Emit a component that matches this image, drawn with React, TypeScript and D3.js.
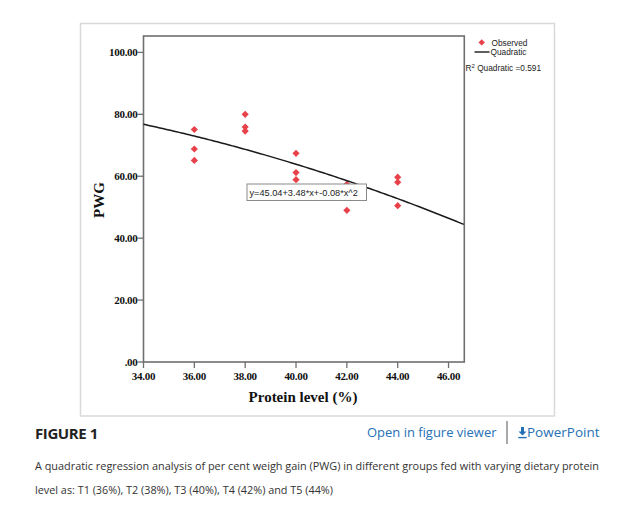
import React from "react";
import * as d3 from "d3";

// ---- data ----
const xObserved = [36, 36, 36, 38, 38, 38, 40, 40, 40, 42, 42, 44, 44, 44];
const yObserved = [75.1, 68.8, 65.1, 80.0, 75.9, 74.6, 67.4, 61.2, 58.9, 57.4, 49.0, 59.7, 58.1, 50.5];
// fitted quadratic (as drawn): y = c0 + c1*x + c2*x^2
const quadCoef = [64.04, 2.52, -0.0631];
const xTicks = [34, 36, 38, 40, 42, 44, 46];
const yTicks = [0, 20, 40, 60, 80, 100];
const xDomain = [34, 46.62];
const yDomain = [0, 105.3];
const equationLabel = "y=45.04+3.48*x+-0.08*x^2";
const legendLabels = ["Observed", "Quadratic"];
const rSquaredLabel = "Quadratic =0.591";
const captionLines = [
  "A quadratic regression analysis of per cent weigh gain (PWG) in different groups fed with varying dietary protein",
  "level as: T1 (36%), T2 (38%), T3 (40%), T4 (42%) and T5 (44%)",
];

const fmt = (v: number) => {
  const s = v.toFixed(2);
  return s.startsWith("0.") ? s.slice(1) : s;
};

export default function App() {
  const left = 143.5, right = 464.3, top = 36, bottom = 362;
  const x = d3.scaleLinear().domain(xDomain).range([left, right]);
  const y = d3.scaleLinear().domain(yDomain).range([bottom, top]);

  const curveXs = d3.range(xDomain[0], xDomain[1] + 0.001, 0.1);
  const line = d3
    .line<number>()
    .x((d) => x(d))
    .y((d) => y(quadCoef[0] + quadCoef[1] * d + quadCoef[2] * d * d));

  const diamond = (cx: number, cy: number, r: number) =>
    `M${cx},${cy - r}L${cx + r},${cy}L${cx},${cy + r}L${cx - r},${cy}Z`;

  const serif = "'Liberation Serif', 'Times New Roman', serif";
  const sans = "'Liberation Sans', Arial, sans-serif";
  const open = "'Open Sans', 'Noto Sans', sans-serif";
  const red = "#e8414a";
  const axisColor = "#6f6f6f";
  const link = "#2670b5";

  return (
    <svg
      width={640}
      height={511}
      style={{ position: "absolute", left: 0, top: 0, background: "#fff" }}
    >
      <rect x={0} y={0} width={640} height={511} fill="#fff" />
      {/* outer figure frame */}
      <rect x={80.5} y={23.5} width={474} height={392.5} fill="none" stroke="#d9d9d9" strokeWidth={1.5} />

      {/* plot box */}
      <rect x={left} y={top} width={right - left} height={bottom - top} fill="#fff" stroke={axisColor} strokeWidth={1.6} />

      {/* y ticks */}
      {yTicks.map((t) => (
        <g key={"y" + t}>
          <line x1={left - 6} x2={left} y1={y(t)} y2={y(t)} stroke={axisColor} strokeWidth={1.3} />
          <text x={left - 6} y={y(t) + 3.6} textAnchor="end" fontFamily={serif} fontWeight="bold" fontSize={11} fill="#111" letterSpacing={-0.3}>
            {fmt(t)}
          </text>
        </g>
      ))}
      {/* x ticks */}
      {xTicks.map((t) => (
        <g key={"x" + t}>
          <line x1={x(t)} x2={x(t)} y1={bottom} y2={bottom + 6} stroke={axisColor} strokeWidth={1.3} />
          <text x={x(t)} y={bottom + 18} textAnchor="middle" fontFamily={serif} fontWeight="bold" fontSize={11} fill="#111" letterSpacing={-0.3}>
            {fmt(t)}
          </text>
        </g>
      ))}

      {/* axis titles */}
      <text x={(x(34) + x(46)) / 2 + 7} y={402} textAnchor="middle" fontFamily={serif} fontWeight="bold" fontSize={15} fill="#111">
        Protein level (%)
      </text>
      <text transform="translate(104,200) rotate(-90)" textAnchor="middle" fontFamily={serif} fontWeight="bold" fontSize={15} fill="#111">
        PWG
      </text>

      {/* observed points */}
      {xObserved.map((xv, i) => (
        <path key={"p" + i} d={diamond(x(xv), y(yObserved[i]), 3.6)} fill={red} />
      ))}

      {/* fitted curve */}
      <path d={line(curveXs) || ""} fill="none" stroke="#1a1a1a" strokeWidth={1.5} />

      {/* equation label */}
      <rect x={247} y={184} width={119.5} height={16.5} fill="#fff" stroke="#8a8a8a" strokeWidth={1} />
      <text x={249.5} y={195.5} fontFamily={sans} fontSize={9.2} fill="#222">
        {equationLabel}
      </text>

      {/* legend */}
      <path d={diamond(481.7, 42.4, 3.2)} fill={red} />
      <text x={491.5} y={45.8} fontFamily={sans} fontSize={8.3} fill="#222">{legendLabels[0]}</text>
      <line x1={474.5} x2={489.5} y1={52} y2={52} stroke="#1a1a1a" strokeWidth={1.4} />
      <text x={490.5} y={55} fontFamily={sans} fontSize={8.3} fill="#222">{legendLabels[1]}</text>
      <text x={465.5} y={71} fontFamily={sans} fontSize={8.3} fill="#222">
        R<tspan fontSize={6} dy={-3.5}>2</tspan>
        <tspan dy={3.5}> {rSquaredLabel}</tspan>
      </text>

      {/* caption header */}
      <text x={35} y={438.7} fontFamily={open} fontWeight="bold" fontSize={15} fill="#222" letterSpacing={-0.4}>
        FIGURE 1
      </text>
      <text x={367} y={437} fontFamily={open} fontSize={13.5} fill={link} textLength={129.5} lengthAdjust="spacingAndGlyphs">
        Open in figure viewer
      </text>
      <line x1={507} x2={507} y1={421} y2={444} stroke="#555" strokeWidth={1} />
      <path d="M521,427 L524,427 L524,431.5 L526.5,431.5 L522.5,435.5 L518.5,431.5 L521,431.5 Z" fill={link} />
      <line x1={518.3} x2={526.7} y1={437.6} y2={437.6} stroke={link} strokeWidth={1.4} />
      <text x={527} y={437} fontFamily={open} fontSize={13.5} fill={link} textLength={72.5} lengthAdjust="spacingAndGlyphs">
        PowerPoint
      </text>

      {/* caption body */}
      <text x={35} y={469.5} fontFamily={open} fontSize={11} fill="#333" textLength={564} lengthAdjust="spacingAndGlyphs">
        {captionLines[0]}
      </text>
      <text x={35} y={493.5} fontFamily={open} fontSize={11} fill="#333" textLength={298} lengthAdjust="spacingAndGlyphs">
        {captionLines[1]}
      </text>
    </svg>
  );
}
